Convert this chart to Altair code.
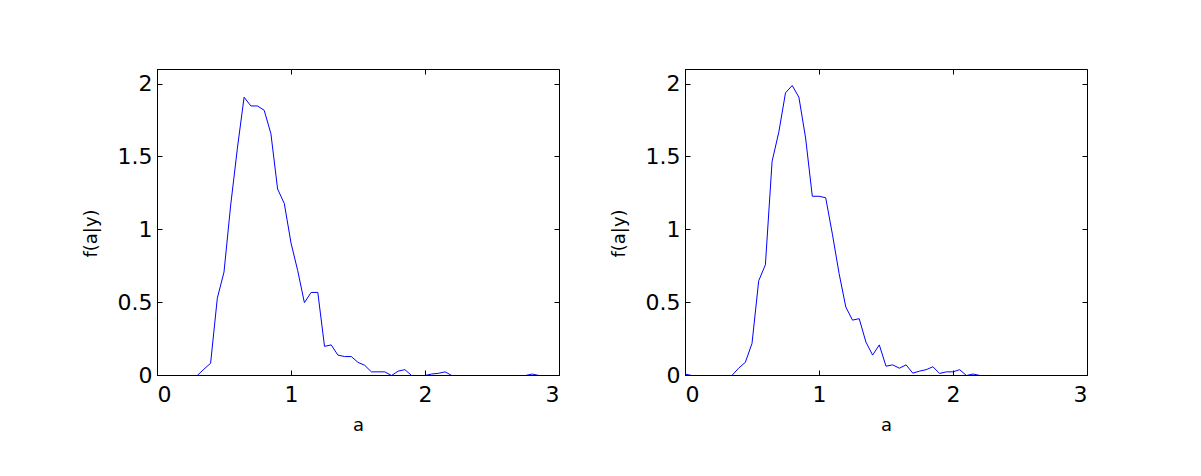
import altair as alt
import pandas as pd

# grid of a values (0 to 3 step 0.05)
a_vals = [0.0, 0.05, 0.1, 0.15, 0.2, 0.25, 0.3, 0.35, 0.4, 0.45, 0.5, 0.55, 0.6, 0.65,
          0.7, 0.75, 0.8, 0.85, 0.9, 0.95, 1.0, 1.05, 1.1, 1.15, 1.2, 1.25, 1.3, 1.35,
          1.4, 1.45, 1.5, 1.55, 1.6, 1.65, 1.7, 1.75, 1.8, 1.85, 1.9, 1.95, 2.0, 2.05,
          2.1, 2.15, 2.2, 2.25, 2.3, 2.35, 2.4, 2.45, 2.5, 2.55, 2.6, 2.65, 2.7, 2.75,
          2.8, 2.85, 2.9, 2.95, 3.0]

left_f = [0, 0, 0, 0, 0, 0, 0, 0.043, 0.084, 0.53, 0.71, 1.17, 1.56, 1.91,
          1.85, 1.85, 1.82, 1.66, 1.28, 1.18, 0.91, 0.72, 0.50, 0.57, 0.57, 0.20, 0.21, 0.14,
          0.13, 0.13, 0.09, 0.07, 0.025, 0.025, 0.025, 0, 0.03, 0.04, 0, 0, 0, 0.01,
          0.015, 0.025, 0, 0, 0, 0, 0, 0, 0, 0, 0, 0, 0, 0,
          0.01, 0, 0, 0, 0]

right_f = [0.01, 0, 0, 0, 0, 0, 0, 0, 0.05, 0.09, 0.22, 0.65, 0.76, 1.47,
           1.67, 1.94, 1.99, 1.91, 1.63, 1.23, 1.23, 1.22, 0.97, 0.70, 0.47, 0.38, 0.39, 0.23,
           0.14, 0.21, 0.064, 0.073, 0.05, 0.073, 0.016, 0.03, 0.04, 0.06, 0.014, 0.025, 0.025, 0.04,
           0, 0.01, 0, 0, 0, 0, 0, 0, 0, 0, 0, 0, 0, 0,
           0, 0, 0, 0, 0]

x_ticks = [0, 1, 2, 3]
y_ticks = [0, 0.5, 1, 1.5, 2]

FONT = "DejaVu Sans"
W, H = 402, 306


def panel(values):
    df = pd.DataFrame({"a": a_vals, "f": values})
    xs = alt.Scale(domain=[0, 3], nice=False)
    ys = alt.Scale(domain=[0, 2.1], nice=False)
    base = alt.Chart(df)
    main = base.mark_line(color="#0000ff", strokeWidth=1, clip=True, yOffset=0.5).encode(
        x=alt.X("a:Q", scale=xs, title="a",
                axis=alt.Axis(orient="bottom", values=x_ticks, format="~g", ticks=False,
                              domain=True, domainColor="black", domainWidth=1, zindex=1,
                              labelPadding=9, titlePadding=11, grid=False)),
        y=alt.Y("f:Q", scale=ys, title="f(a|y)",
                axis=alt.Axis(orient="left", values=y_ticks, format="~g", ticks=False,
                              domain=True, domainColor="black", domainWidth=1, zindex=1,
                              labelPadding=5, titlePadding=17, titleY=164, grid=False)),
    )
    ticks1 = base.mark_line(strokeOpacity=0).encode(
        x=alt.X("a:Q", scale=xs, title=None,
                axis=alt.Axis(orient="bottom", values=x_ticks, ticks=True, tickSize=5,
                              tickColor="black", offset=-5, domain=False, labels=False,
                              grid=False, zindex=1)),
        y=alt.Y("f:Q", scale=ys, title=None,
                axis=alt.Axis(orient="left", values=y_ticks, ticks=True, tickSize=5,
                              tickColor="black", offset=-5, domain=False, labels=False,
                              grid=False, zindex=1)),
    )
    ticks2 = base.mark_line(strokeOpacity=0).encode(
        x=alt.X("a:Q", scale=xs, title=None,
                axis=alt.Axis(orient="top", values=x_ticks, ticks=True, tickSize=5,
                              tickColor="black", offset=-5, domain=False, labels=False,
                              grid=False, zindex=1)),
        y=alt.Y("f:Q", scale=ys, title=None,
                axis=alt.Axis(orient="right", values=y_ticks, ticks=True, tickSize=5,
                              tickColor="black", offset=-5, domain=False, labels=False,
                              grid=False, zindex=1)),
    )
    return alt.layer(main, ticks1, ticks2).resolve_axis(
        x="independent", y="independent"
    ).properties(width=W, height=H)


chart = alt.hconcat(panel(left_f), panel(right_f), spacing=49).properties(
    padding={"left": 73, "top": 60, "right": 5, "bottom": 5},
    background="white",
).configure_view(
    stroke="black", strokeWidth=1
).configure_axis(
    labelFont=FONT, labelFontSize=22, labelColor="black",
    titleFont=FONT, titleFontSize=18, titleColor="black", titleFontWeight="normal",
)

chart.save("out.html", embed_options={"renderer": "svg", "actions": False})
